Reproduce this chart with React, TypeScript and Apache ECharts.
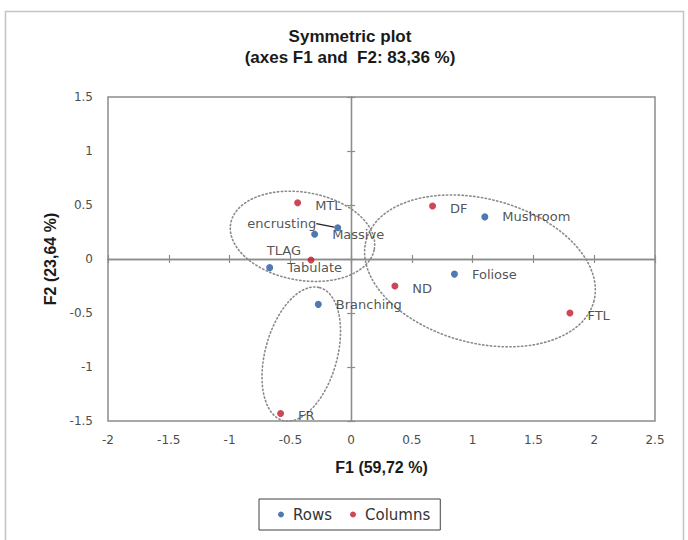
import React, { useEffect, useRef } from 'react';
import * as echarts from 'echarts';

// ---- Data ----
const rowNames = ['encrusting', 'Massive', 'Tabulate', 'Branching', 'Foliose', 'Mushroom'];
const rowF1 = [-0.11, -0.30, -0.67, -0.27, 0.85, 1.10];
const rowF2 = [0.29, 0.23, -0.08, -0.42, -0.14, 0.39];

const colNames = ['MTL', 'TLAG', 'DF', 'ND', 'FTL', 'FR'];
const colF1 = [-0.44, -0.33, 0.67, 0.36, 1.80, -0.58];
const colF2 = [0.52, -0.01, 0.49, -0.25, -0.50, -1.43];

const xRange = [-2, 2.5];
const yRange = [-1.5, 1.5];
const tickStep = 0.5;

// Dotted grouping ellipses (data units): centre and two conjugate semi-axis vectors
const ellipseCentres = [[-0.40, 0.21], [1.06, -0.11], [-0.41, -0.88]];
const ellipseAxisU = [[0.591, -0.118], [0.937, -0.283], [0.152, 0.615]];
const ellipseAxisV = [[0.063, 0.401], [0.153, 0.644], [0.285, -0.089]];

// ---- Styling ----
const BLUE = '#24589e';
const RED = '#c0192b';
const LABEL_FONT = 'DejaVu Sans';
const BOLD_FONT = 'Liberation Sans';

const labelPlacement: Record<string, any> = {
  encrusting: { position: 'left', distance: 2, offset: [0, 0] },
  TLAG: { position: 'left', distance: 6.5, offset: [0, -10] },
};
const defaultPlacement = { position: 'right', distance: 14, offset: [0, 2.5] };

function ellipsePoints(i: number): number[][] {
  const pts: number[][] = [];
  const n = 96;
  const c = ellipseCentres[i];
  const u = ellipseAxisU[i];
  const v = ellipseAxisV[i];
  for (let k = 0; k <= n; k++) {
    const t = (k / n) * Math.PI * 2;
    pts.push([c[0] + u[0] * Math.cos(t) + v[0] * Math.sin(t), c[1] + u[1] * Math.cos(t) + v[1] * Math.sin(t)]);
  }
  return pts;
}

function pointData(names: string[], xs: number[], ys: number[]) {
  return names.map((name, i) => {
    const p = labelPlacement[name] || defaultPlacement;
    const item: any = {
      name,
      value: [xs[i], ys[i]],
      label: { position: p.position, distance: p.distance, offset: p.offset },
    };
    if (name === 'encrusting') {
      item.labelLine = { show: true, lineStyle: { color: '#222', width: 1.2 } };
    }
    return item;
  });
}

const pointLabel = {
  show: true,
  formatter: (p: any) => p.name,
  fontFamily: LABEL_FONT,
  fontSize: 13,
  color: '#262626',
};

function valueAxis(kind: 'x' | 'y', idx: number): any {
  const isX = kind === 'x';
  const range = isX ? xRange : yRange;
  const base: any = {
    type: 'value',
    min: range[0],
    max: range[1],
    interval: tickStep,
    position: isX ? 'bottom' : 'left',
    splitLine: { show: false },
  };
  if (idx === 0) {
    return {
      ...base,
      axisLine: { show: false, onZero: false },
      axisTick: { show: false },
      axisLabel: {
        margin: isX ? 13 : 15,
        color: '#4d4d4d',
        fontFamily: LABEL_FONT,
        fontSize: 12,
      },
      name: isX ? 'F1 (59,72 %)' : 'F2 (23,64 %)',
      nameLocation: 'middle',
      nameGap: isX ? 38 : 50,
      nameTextStyle: { fontFamily: BOLD_FONT, fontWeight: 'bold', fontSize: 16, color: '#1a1a1a' },
    };
  }
  return {
    ...base,
    axisLine: { show: true, onZero: true, onZeroAxisIndex: 0, lineStyle: { color: '#8c8c8c', width: 1.3 } },
    axisTick: { show: true, inside: idx === 1, length: 4, lineStyle: { color: '#8c8c8c', width: 1.2 } },
    axisLabel: { show: false },
  };
}

export default function App() {
  const ref = useRef<HTMLDivElement>(null);
  useEffect(() => {
    if (!ref.current) return;
    const chart = echarts.init(ref.current, undefined, { renderer: 'svg' });
    const ellipseSeries = ellipseCentres.map((_, i) => ({
      type: 'line',
      name: 'ellipse' + i,
      data: ellipsePoints(i),
      xAxisIndex: 0,
      yAxisIndex: 0,
      showSymbol: false,
      symbol: 'none',
      silent: true,
      z: 1,
      lineStyle: { color: '#8a8a8a', width: 1.6, type: [1.3, 2.6], cap: 'round' },
    }));
    const option: any = {
      animation: false,
      backgroundColor: '#ffffff',
      grid: {
        left: 108,
        top: 97,
        width: 547,
        height: 324,
        show: true,
        borderColor: '#8c8c8c',
        borderWidth: 1.5,
        backgroundColor: 'transparent',
      },
      xAxis: [valueAxis('x', 0), valueAxis('x', 1), valueAxis('x', 2)],
      yAxis: [valueAxis('y', 0), valueAxis('y', 1), valueAxis('y', 2)],
      legend: {
        data: ['Rows', 'Columns'],
        left: 259,
        top: 499,
        icon: 'circle',
        itemWidth: 6,
        itemHeight: 6,
        itemGap: 18,
        borderColor: '#404040',
        borderWidth: 1,
        padding: [8, 10, 8, 19],
        textStyle: { fontFamily: LABEL_FONT, fontSize: 15, color: '#333333', padding: [0, 0, 0, 4] },
      },
      graphic: [
        {
          type: 'rect',
          shape: { x: 5.5, y: 11.5, width: 678, height: 545 },
          style: { fill: 'none', stroke: '#c4c4c4', lineWidth: 1.5 },
          silent: true,
          z: -10,
        },
        {
          type: 'text',
          x: 350,
          y: 26,
          style: {
            text: 'Symmetric plot\n(axes F1 and  F2: 83,36 %)',
            align: 'center',
            verticalAlign: 'top',
            fontFamily: BOLD_FONT,
            fontWeight: 'bold',
            fontSize: 17,
            lineHeight: 21,
            fill: '#1a1a1a',
          },
        },
      ],
      series: [
        ...ellipseSeries,
        {
          type: 'scatter',
          name: 'Rows',
          xAxisIndex: 0,
          yAxisIndex: 0,
          symbolSize: 7,
          z: 3,
          itemStyle: { color: BLUE },
          label: pointLabel,
          labelLayout: (params: any) => (params.dataIndex === 0 ? { dx: -16, dy: -4 } : {}),
          data: pointData(rowNames, rowF1, rowF2),
        },
        {
          type: 'scatter',
          name: 'Columns',
          xAxisIndex: 0,
          yAxisIndex: 0,
          symbolSize: 7,
          z: 3,
          itemStyle: { color: RED },
          label: pointLabel,
          data: pointData(colNames, colF1, colF2),
        },
      ],
    };
    chart.setOption(option);
    return () => chart.dispose();
  }, []);
  return (
    <div style={{ position: 'fixed', left: 0, top: 0, width: 688, height: 540, background: '#fff' }}>
      <div ref={ref} style={{ width: 688, height: 540 }} />
    </div>
  );
}
